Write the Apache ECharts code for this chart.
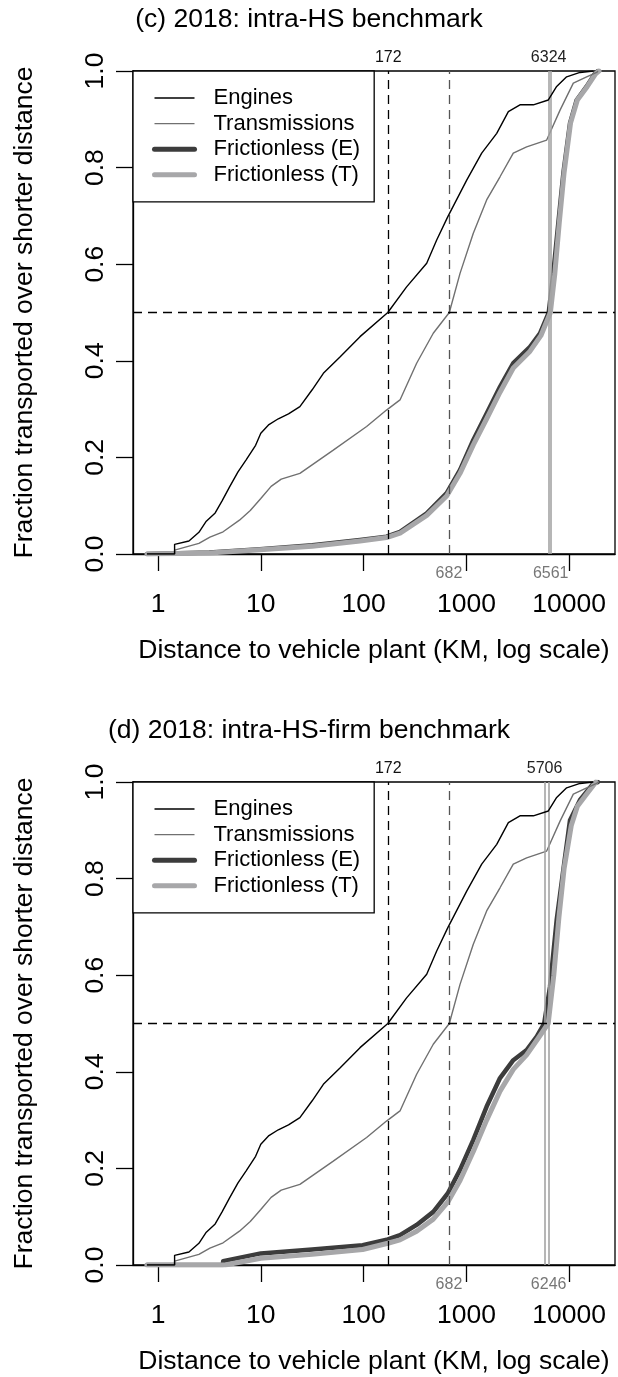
<!DOCTYPE html>
<html><head><meta charset="utf-8">
<script src="https://cdn.jsdelivr.net/npm/echarts@6/dist/echarts.min.js"></script>
<style>html,body{margin:0;padding:0;background:#fff}#c{width:618px;height:1377px}</style>
</head><body><div id="c"></div>
<script>
// ---- data (distance in km, cumulative fraction) ----
const enginesKm   = [0.78,1.45,1.45,2.0,2.5,2.95,3.6,4.2,5.0,6.0,7.2,8.9,10,12,14.8,18.6,24,31.6,40.6,58.9,92.3,172,262,411,514,658,1007,1409,1972,2559,3319,4477,6266,7551,9441,12735,17179];
const enginesFrac = [0,0,0.02,0.027,0.045,0.068,0.085,0.11,0.14,0.17,0.195,0.225,0.25,0.268,0.28,0.29,0.305,0.34,0.374,0.408,0.45,0.5,0.553,0.602,0.65,0.698,0.774,0.83,0.871,0.916,0.93,0.93,0.94,0.968,0.988,0.997,1.0];

const transKm   = [0.78,1.45,1.45,2.5,3.2,4.3,6.2,7.9,10,12.6,15.8,24,50.7,107,167,226,328,476,682,867,1167,1574,2123,2858,3855,6039,8147,10965,14791,18493,19055];
const transFrac = [0,0,0.008,0.022,0.035,0.046,0.07,0.09,0.115,0.14,0.155,0.167,0.215,0.264,0.298,0.319,0.395,0.457,0.5,0.581,0.664,0.733,0.781,0.83,0.843,0.857,0.919,0.975,0.988,0.997,1.0];

// panel (c) frictionless
const fricE_cKm   = [0.78,3.16,9.8,31.6,92.3,167,226,411,643,867,1167,1574,2123,2858,4159,5200,6324,7000,7834,8770,10186,11830,14791,17820,19055];
const fricE_cFrac = [0,0.003,0.01,0.018,0.029,0.036,0.046,0.084,0.126,0.174,0.236,0.291,0.346,0.395,0.429,0.457,0.5,0.581,0.685,0.788,0.892,0.94,0.968,0.995,1.0];
const fricT_cKm   = [0.78,3.16,9.8,31.6,92.3,167,226,411,643,867,1167,1574,2123,2858,4159,5300,6561,7250,8000,8900,10300,12000,15000,18200,19500];
const fricT_cFrac = [0,0.002,0.009,0.016,0.027,0.034,0.043,0.08,0.12,0.167,0.226,0.28,0.335,0.385,0.42,0.452,0.5,0.581,0.685,0.788,0.892,0.94,0.968,0.995,1.0];

// panel (d) frictionless
const fricE_dKm   = [0.78,4.3,4.3,10,31.6,97.9,172,226,328,476,658,867,1167,1574,2123,2858,3855,4831,5706,6501,7551,8770,10186,12735,17179,19055];
const fricE_dFrac = [0,0,0.008,0.024,0.032,0.041,0.053,0.062,0.083,0.110,0.148,0.197,0.259,0.328,0.387,0.424,0.445,0.473,0.5,0.576,0.714,0.818,0.921,0.963,0.997,1.0];
const fricT_dKm   = [0.78,4.5,10,31.6,97.9,172,226,328,476,658,867,1167,1574,2123,2858,3855,5012,6246,7079,7943,8913,10471,12023,14791,18197];
const fricT_dFrac = [0,0,0.014,0.022,0.032,0.045,0.052,0.07,0.095,0.13,0.175,0.235,0.30,0.36,0.405,0.435,0.47,0.5,0.6,0.72,0.82,0.91,0.95,0.975,1.0];

// medians: engines, transmissions, frictionless (E), frictionless (T)
const medians_c = [172, 682, 6324, 6561];
const medians_d = [172, 682, 5706, 6246];

const xTickKm = [1, 10, 100, 1000, 10000];
const yTicks = [0, 0.2, 0.4, 0.6, 0.8, 1.0];
const seriesNames = ['Engines', 'Transmissions', 'Frictionless (E)', 'Frictionless (T)'];
const titles = ['(c) 2018: intra-HS benchmark', '(d) 2018: intra-HS-firm benchmark'];
const xName = 'Distance to vehicle plant (KM, log scale)';
const yName = 'Fraction transported over shorter distance';

// ---- build ----
const FONT = '"Liberation Sans", Arial, Helvetica, sans-serif';
const pts = (km, fr) => km.map((k, i) => [Math.log10(k), fr[i]]);
const gridTops = [71, 782];
const xMin = -0.2432, xMax = 4.4455;

const panels = [
  {E: pts(fricE_cKm, fricE_cFrac), T: pts(fricT_cKm, fricT_cFrac), med: medians_c},
  {E: pts(fricE_dKm, fricE_dFrac), T: pts(fricT_dKm, fricT_dFrac), med: medians_d}
];

const grid = [], xAxis = [], yAxis = [], series = [], legend = [], title = [];
const dash = [9, 6];
const noSym = {color: 'rgba(0,0,0,0)', borderColor: 'rgba(0,0,0,0)', borderWidth: 0, opacity: 0};
panels.forEach((p, i) => {
  grid.push({left: 133, top: gridTops[i], width: 482, height: 483, show: true,
    borderColor: '#000', borderWidth: 1.3, backgroundColor: 'transparent'});
  title.push({text: titles[i], left: 'center', top: gridTops[i] - 66, padding: 0,
    textStyle: {fontSize: 26.5, fontWeight: 'normal', color: '#000', fontFamily: FONT, lineHeight: 30}});
  xAxis.push({type: 'value', gridIndex: i, min: xMin, max: xMax,
    name: xName, nameLocation: 'middle', nameGap: 83,
    nameTextStyle: {fontSize: 26.5, color: '#000', fontFamily: FONT},
    axisLine: {show: true, onZero: false, lineStyle: {color: '#000', width: 1.3}},
    axisTick: {show: true, length: 17, inside: false, customValues: xTickKm.map(Math.log10),
      lineStyle: {color: '#000', width: 1.3}},
    axisLabel: {show: true, customValues: xTickKm.map(Math.log10), margin: 37,
      formatter: v => String(Math.round(Math.pow(10, v))),
      fontSize: 26.5, color: '#000', fontFamily: FONT},
    splitLine: {show: false}});
  yAxis.push({type: 'value', gridIndex: i, min: 0, max: 1, interval: 0.2,
    name: yName, nameLocation: 'middle', nameGap: 95,
    nameTextStyle: {fontSize: 26.5, color: '#000', fontFamily: FONT},
    axisLine: {show: true, onZero: false, lineStyle: {color: '#000', width: 1.3}},
    axisTick: {show: true, length: 17, inside: false, customValues: yTicks, lineStyle: {color: '#000', width: 1.3}},
    axisLabel: {show: true, rotate: 90, margin: 24, customValues: yTicks,
      formatter: v => v.toFixed(1), fontSize: 26.5, color: '#000', fontFamily: FONT},
    splitLine: {show: false}});

  const lab = (txt, pos, color) => ({show: true, position: pos, formatter: String(txt),
    color: color, fontSize: 16, fontFamily: FONT, distance: pos === 'end' ? 5 : 12});
  const marks = [
    {xAxis: Math.log10(p.med[0]), lineStyle: {color: '#000', type: dash, width: 1.3}, label: lab(p.med[0], 'end', '#111')},
    {xAxis: Math.log10(p.med[1]), lineStyle: {color: '#555', type: dash, width: 1.3}, label: lab(p.med[1], 'start', '#777')},
    {xAxis: Math.log10(p.med[2]), lineStyle: {color: '#a4a4a4', type: 'solid', width: 1.6}, label: lab(p.med[2], 'end', '#222')},
    {xAxis: Math.log10(p.med[3]), lineStyle: {color: '#a4a4a4', type: 'solid', width: 1.6}, label: lab(p.med[3], 'start', '#777')},
    {yAxis: 0.5, lineStyle: {color: '#000', type: dash, width: 1.3}, label: {show: false}}
  ];

  const common = {type: 'line', xAxisIndex: i, yAxisIndex: i, symbol: 'none', showSymbol: false,
    smooth: false, animation: false, silent: true};
  series.push(Object.assign({}, common, {name: seriesNames[0], data: pts(enginesKm, enginesFrac),
    lineStyle: {color: '#000', width: 1.4}, itemStyle: {color: '#000'}, z: 5,
    markLine: {silent: true, symbol: ['none', 'none'], animation: false, data: marks}}));
  series.push(Object.assign({}, common, {name: seriesNames[1], data: pts(transKm, transFrac),
    lineStyle: {color: '#707070', width: 1.4}, itemStyle: {color: '#707070'}, z: 4}));
  series.push(Object.assign({}, common, {name: seriesNames[2], data: p.E,
    lineStyle: {color: '#3c3c3c', width: 4.5, cap: 'round', join: 'round'}, itemStyle: {color: '#3c3c3c'}, z: 2}));
  series.push(Object.assign({}, common, {name: seriesNames[3], data: p.T,
    lineStyle: {color: '#a7a7a9', width: 5, cap: 'round', join: 'round'}, itemStyle: {color: '#a7a7a9'}, z: 3}));

  legend.push({orient: 'vertical', left: 133, top: gridTops[i], padding: [16, 14, 16, 19],
    itemWidth: 40, itemHeight: 14, itemGap: 3.6, borderColor: '#000', borderWidth: 1.3,
    selectedMode: false, backgroundColor: '#fff', itemStyle: noSym,
    textStyle: {fontSize: 22, color: '#000', fontFamily: FONT, lineHeight: 22, padding: [0, 0, 0, 14]},
    data: [
      {name: seriesNames[0], itemStyle: noSym, lineStyle: {color: '#000', width: 1.4}},
      {name: seriesNames[1], itemStyle: noSym, lineStyle: {color: '#707070', width: 1.4}},
      {name: seriesNames[2], itemStyle: noSym, lineStyle: {color: '#3c3c3c', width: 5, cap: 'round'}},
      {name: seriesNames[3], itemStyle: noSym, lineStyle: {color: '#a7a7a9', width: 5, cap: 'round'}}
    ]});
});

const chart = echarts.init(document.getElementById('c'), null, {renderer: 'canvas'});
chart.setOption({animation: false, backgroundColor: '#fff', textStyle: {fontFamily: FONT},
  title, grid, xAxis, yAxis, series, legend});
</script></body></html>
